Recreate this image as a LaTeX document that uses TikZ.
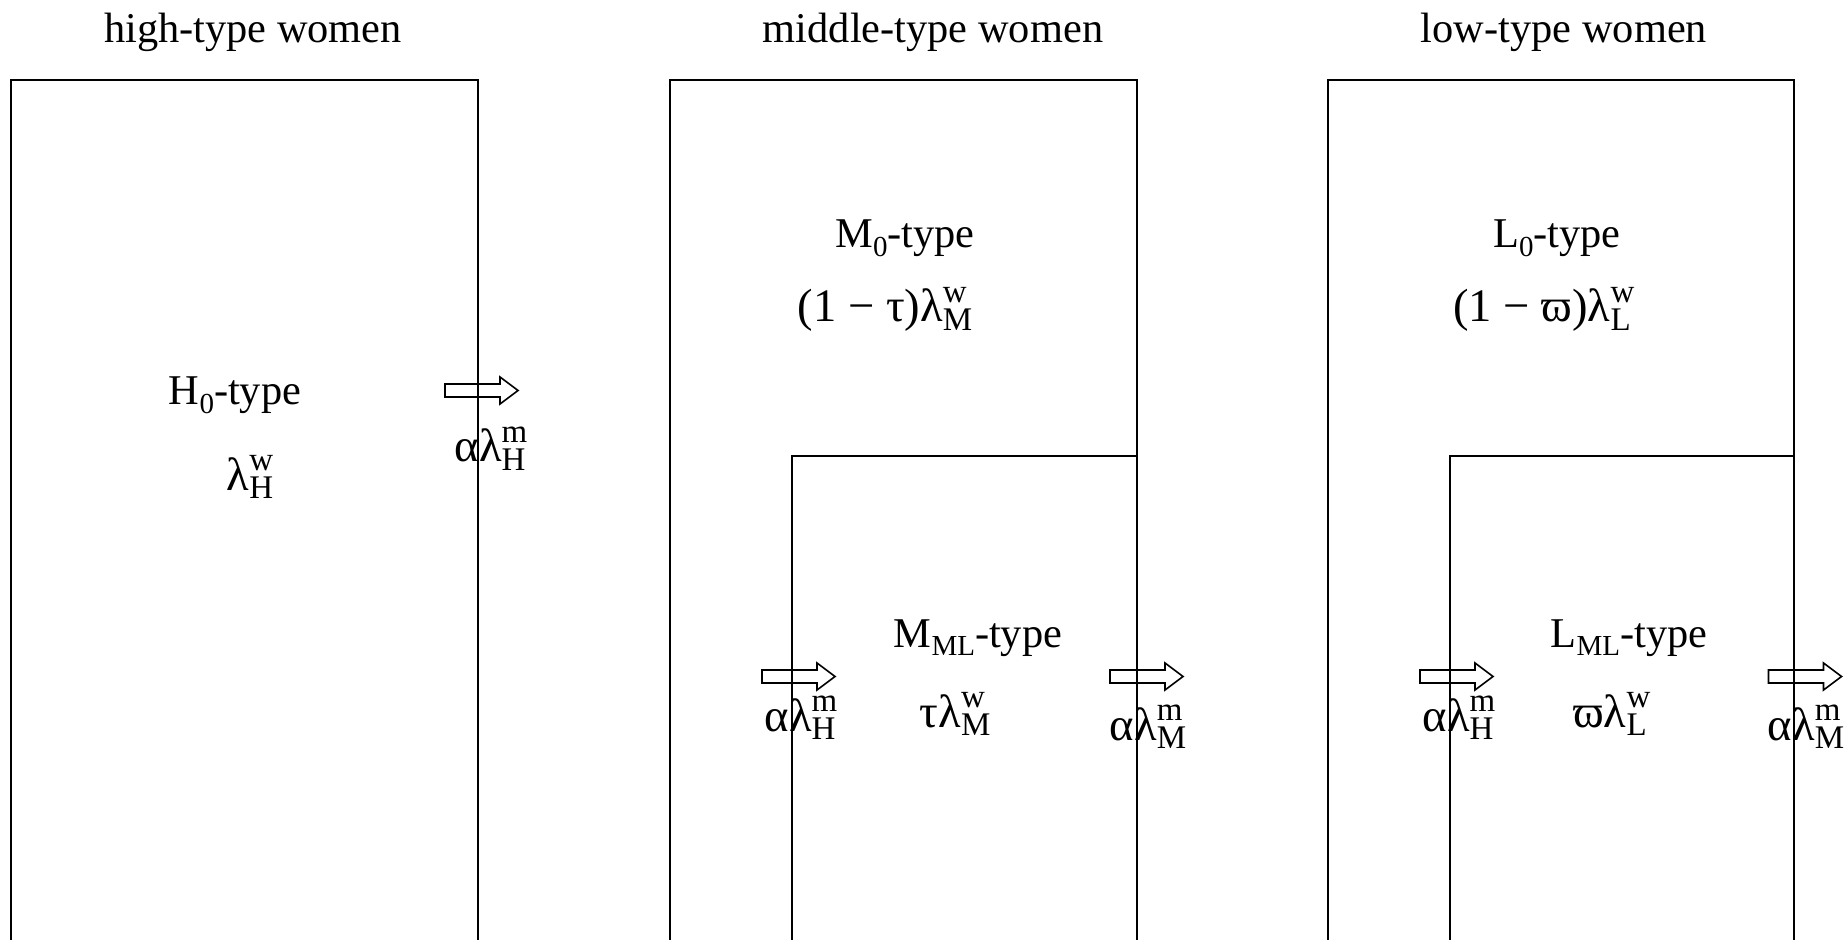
\documentclass[tikz,border=0pt]{standalone}
\usepackage{fontspec}
\setmainfont{Liberation Serif}

% small size for indices
\newcommand{\ssz}{\fontsize{14.5}{16}\selectfont}
\newcommand{\msz}{\fontsize{16.5}{18}\selectfont}
% base symbol with a superscript and a subscript stacked on its right
\newcommand{\supsub}[3]{#1\rlap{\raisebox{0.42em}{\msz #2}}\raisebox{-0.18em}{\msz #3}}
% lowered index after a capital letter
\newcommand{\idx}[1]{\raisebox{-0.2em}{\ssz #1}}

\tikzset{
  frame/.style={line width=1pt},
  txt/.style={inner sep=0pt, anchor=base, font=\fontsize{21.2}{25}\selectfont},
  mtxt/.style={inner sep=0pt, anchor=base, font=\fontsize{23.3}{27}\selectfont},
  arrowline/.style={line width=0.8pt},
  blockarrow/.pic={
    \draw[arrowline] (0,-6.5) -- (55,-6.5) -- (55,-13.5) -- (73,0)
      -- (55,13.5) -- (55,6.5) -- (0,6.5) -- cycle;
  }
}

\begin{document}
\begin{tikzpicture}[x=0.5pt,y=-0.5pt]
\useasboundingbox (0,0) rectangle (1845,940);

% column titles
\node[txt] (tH) at (253,43) {high-type women};
\node[txt] (tM) at (933,43) {middle-type women};
\node[txt] (tL) at (1564,43) {low-type women};

% open-bottom frames
\draw[frame] (10.6,945) -- (10.6,80) -- (477.7,80) -- (477.7,945);
\draw[frame] (669.5,945) -- (669.5,80) -- (1136.6,80) -- (1136.6,945);
\draw[frame] (791.9,945) -- (791.9,456.5) -- (1136.6,456.5);
\draw[frame] (1328.4,945) -- (1328.4,80) -- (1794.4,80) -- (1794.4,945);
\draw[frame] (1449.6,945) -- (1449.6,456.5) -- (1794.4,456.5);

% high-type column
\node[txt] (h0) at (235,405) {H\idx{0}-type};
\node[mtxt] (h0r) at (250,490) {\supsub{λ}{w}{H}};
\pic at (445,390.5) {blockarrow};
\node[mtxt] (fH) at (490,462) {\supsub{αλ}{m}{H}};

% middle-type column
\node[txt] (m0) at (905,248) {M\idx{0}-type};
\node[mtxt] (m0r) at (885,322) {(1 − τ)\supsub{λ}{w}{M}};
\node[txt] (mml) at (978,647) {M\idx{ML}-type};
\node[mtxt] (mmlr) at (955,727) {τ\supsub{λ}{w}{M}};
\pic at (762,676.5) {blockarrow};
\node[mtxt] (fHm) at (800,731) {\supsub{αλ}{m}{H}};
\pic at (1110,676.5) {blockarrow};
\node[mtxt] (fM) at (1148,740) {\supsub{αλ}{m}{M}};

% low-type column
\node[txt] (l0) at (1557,248) {L\idx{0}-type};
\node[mtxt] (l0r) at (1542,322) {(1 − ϖ)\supsub{λ}{w}{L}};
\node[txt] (lml) at (1629,647) {L\idx{ML}-type};
\node[mtxt] (lmlr) at (1610,727) {ϖ\supsub{λ}{w}{L}};
\pic at (1420,676.5) {blockarrow};
\node[mtxt] (fHl) at (1458,731) {\supsub{αλ}{m}{H}};
\pic at (1768.5,676.5) {blockarrow};
\node[mtxt] (fMl) at (1806,740) {\supsub{αλ}{m}{M}};
\end{tikzpicture}
\end{document}
